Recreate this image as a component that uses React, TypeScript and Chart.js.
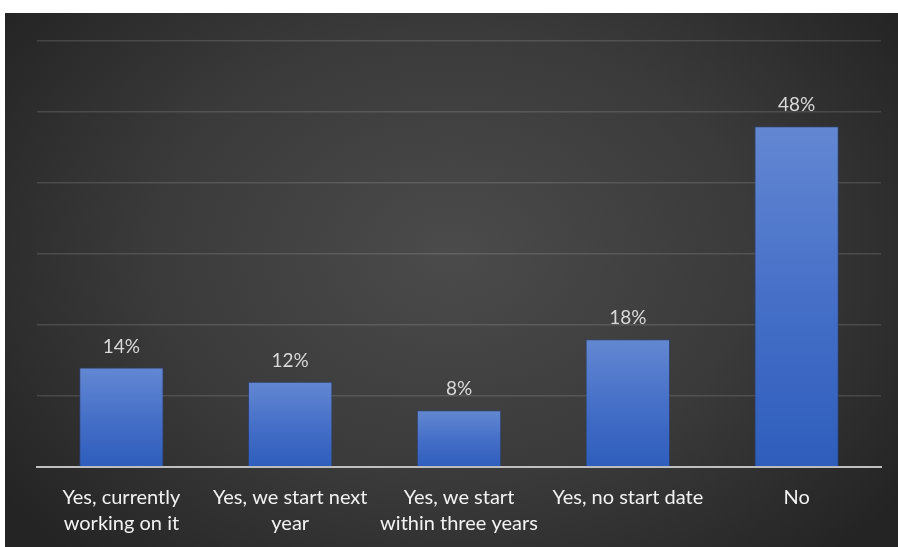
import React, { useEffect, useRef } from "react";
import { Chart, registerables } from "chart.js";

Chart.register(...registerables);

const categories: string[][] = [
  ["Yes, currently", "working on it"],
  ["Yes, we start next", "year"],
  ["Yes, we start", "within three years"],
  ["Yes, no start date"],
  ["No"],
];
const values: number[] = [14, 12, 8, 18, 48];
const valueLabels: string[] = ["14%", "12%", "8%", "18%", "48%"];
const yMax = 60;
const yStep = 10;

const FONT = "Lato, 'Open Sans', sans-serif";

const bgPlugin = {
  id: "bgPlugin",
  beforeDraw(chart: any) {
    const { ctx, width, height } = chart;
    ctx.save();
    const cx = width / 2;
    const cy = height * 0.45;
    const sy = (height / width) * 1.25;
    const r = Math.max(width, height) * 0.62;
    ctx.translate(cx, cy);
    ctx.scale(1, sy);
    const g = ctx.createRadialGradient(0, 0, 0, 0, 0, r);
    g.addColorStop(0, "#4b4b4b");
    g.addColorStop(0.55, "#3a3a3a");
    g.addColorStop(1, "#242424");
    ctx.fillStyle = g;
    ctx.fillRect(-cx, -cy / sy, width, height / sy);
    ctx.restore();
  },
};

const labelPlugin = {
  id: "labelPlugin",
  afterDatasetsDraw(chart: any) {
    const { ctx } = chart;
    const meta = chart.getDatasetMeta(0);
    ctx.save();
    ctx.font = `19px ${FONT}`;
    ctx.fillStyle = "#d9d9d9";
    ctx.textAlign = "center";
    ctx.textBaseline = "middle";
    meta.data.forEach((bar: any, i: number) => {
      ctx.fillText(valueLabels[i], bar.x, bar.y - 21);
    });
    ctx.restore();
  },
};

export default function App() {
  const ref = useRef<HTMLCanvasElement | null>(null);
  useEffect(() => {
    if (!ref.current) return;
    const chart = new Chart(ref.current, {
      type: "bar",
      data: {
        labels: categories,
        datasets: [
          {
            data: values,
            backgroundColor: (c: any) => {
              const ch = c.chart;
              const ys = ch.scales && ch.scales.y;
              if (!ch.chartArea || !ys || c.raw == null) return "#4472c4";
              const top = ys.getPixelForValue(c.raw);
              const bottom = ys.getPixelForValue(0);
              if (!isFinite(top) || !isFinite(bottom) || top === bottom) return "#4472c4";
              const g = ch.ctx.createLinearGradient(0, top, 0, bottom);
              g.addColorStop(0, "#6387d2");
              g.addColorStop(0.5, "#4670c8");
              g.addColorStop(1, "#2e5dbc");
              return g;
            },
            borderColor: "rgba(40,70,140,0.6)",
            borderWidth: 1,
            categoryPercentage: 1,
            barPercentage: 0.5,
          },
        ],
      },
      options: {
        responsive: false,
        animation: false,
        maintainAspectRatio: false,
        layout: { padding: { left: 32, right: 17, top: 28, bottom: 0 } },
        plugins: {
          legend: { display: false },
          tooltip: { enabled: false },
        },
        scales: {
          x: {
            grid: { display: false },
            border: { display: true, color: "#bfbfbf", width: 2 },
            ticks: {
              color: "#f2f2f2",
              font: { family: FONT, size: 20, lineHeight: 1.33 },
              padding: 9,
              maxRotation: 0,
              autoSkip: false,
            },
            afterFit: (s: any) => {
              s.height = 80;
            },
          },
          y: {
            min: 0,
            max: yMax,
            ticks: { display: false, stepSize: yStep },
            grid: {
              color: "rgba(255,255,255,0.13)",
              lineWidth: 1.5,
              drawTicks: false,
            },
            border: { display: false },
            afterFit: (s: any) => {
              s.width = 0;
            },
          },
        },
      },
      plugins: [bgPlugin, labelPlugin],
    });
    return () => chart.destroy();
  }, []);
  return (
    <div style={{ position: "fixed", left: 5, top: 13, width: 893, height: 534 }}>
      <canvas ref={ref} width={893} height={534} style={{ display: "block" }} />
    </div>
  );
}
